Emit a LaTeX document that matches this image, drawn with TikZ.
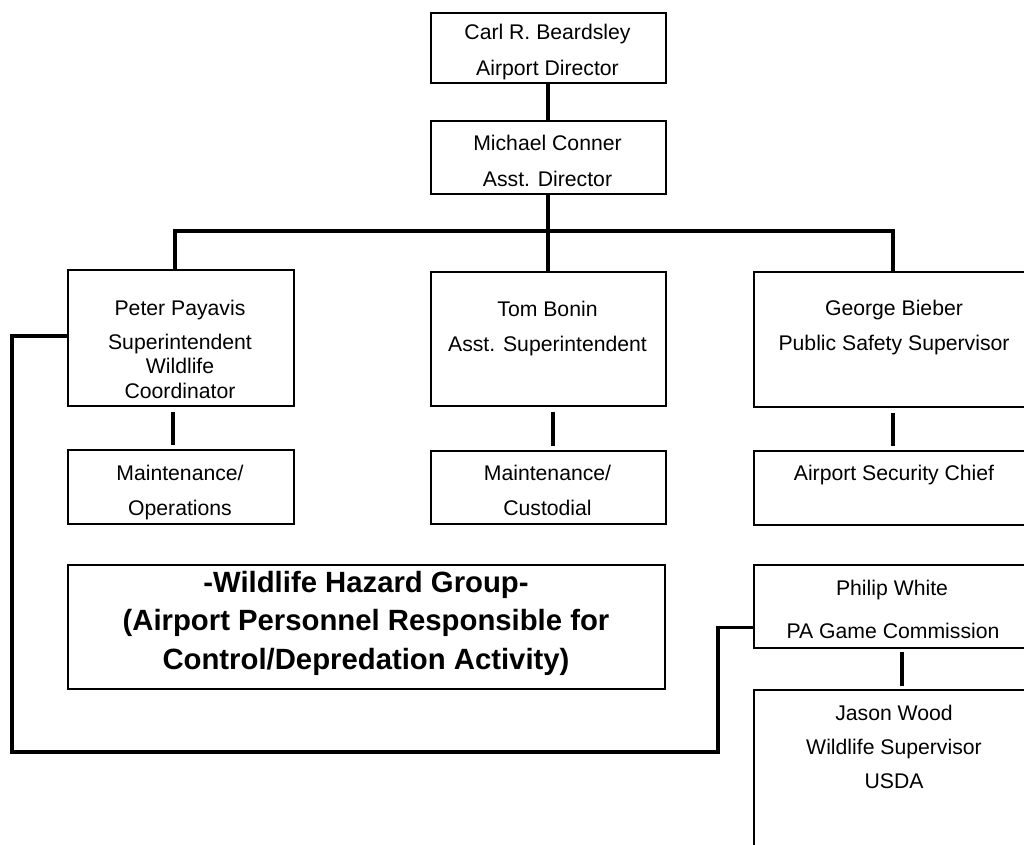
\documentclass[tikz,border=0pt]{standalone}
\usepackage{fontspec}
\setmainfont{Liberation Sans}
\begin{document}
\begin{tikzpicture}[x=1pt,y=-1pt,
  box/.style={draw, line width=1.6pt, inner sep=0pt, anchor=north west},
  conn/.style={draw, line width=3.4pt},
  link/.style={conn, shorten <=5pt, shorten >=4pt},
  txt/.style={anchor=base, inner sep=0pt, font=\fontsize{21.2}{24}\selectfont},
  btxt/.style={anchor=base, inner sep=0pt, font=\fontsize{29.3}{33}\selectfont\bfseries}]
\useasboundingbox (0,0) rectangle (1024,844);
\clip (0,0) rectangle (1024,844);

% boxes
\node[box, minimum width=235pt, minimum height=70pt]  (carl)    at (430,12)  {};
\node[box, minimum width=235pt, minimum height=73pt]  (michael) at (430,120) {};
\node[box, minimum width=226pt, minimum height=136pt] (peter)   at (67,269)  {};
\node[box, minimum width=235pt, minimum height=134pt] (tom)     at (430,271) {};
\node[box, minimum width=282pt, minimum height=135pt] (george)  at (753,271) {};
\node[box, minimum width=226pt, minimum height=74pt]  (mops)    at (67,449)  {};
\node[box, minimum width=235pt, minimum height=73pt]  (mcus)    at (430,450) {};
\node[box, minimum width=282pt, minimum height=74pt]  (sec)     at (753,450) {};
\node[box, minimum width=597pt, minimum height=124pt] (hazard)  at (67,564)  {};
\node[box, minimum width=282pt, minimum height=83pt]  (philip)  at (753,564) {};
\node[box, minimum width=282pt, minimum height=190pt] (jason)   at (753,689) {};

% texts
\node[txt] (t1)  at (547.5,39)  {Carl R. Beardsley};
\node[txt] (t2)  at (547.5,75)  {Airport Director};
\node[txt] (t3)  at (547.5,150) {Michael Conner};
\node[txt] (t4)  at (547.5,186) {Asst. Director};
\node[txt] (t5)  at (180,315)   {Peter Payavis};
\node[txt] (t6)  at (180,349)   {Superintendent};
\node[txt] (t7)  at (180,373)   {Wildlife};
\node[txt] (t8)  at (180,398)   {Coordinator};
\node[txt] (t9)  at (547.5,316) {Tom Bonin};
\node[txt] (t10) at (547.5,351) {Asst. Superintendent};
\node[txt] (t11) at (894,315)   {George Bieber};
\node[txt] (t12) at (894,350)   {Public Safety Supervisor};
\node[txt] (t13) at (180,480)   {Maintenance/};
\node[txt] (t14) at (180,515)   {Operations};
\node[txt] (t15) at (547.5,480) {Maintenance/};
\node[txt] (t16) at (547.5,515) {Custodial};
\node[txt] (t17) at (894,480)   {Airport Security Chief};
\node[btxt] (t18) at (366,592)  {-Wildlife Hazard Group-};
\node[btxt] (t19) at (366,630)  {(Airport Personnel Responsible for};
\node[btxt] (t20) at (366,669)  {Control/Depredation Activity)};
\node[txt] (t21) at (892,595)   {Philip White};
\node[txt] (t22) at (893,638)   {PA Game Commission};
\node[txt] (t23) at (894,720)   {Jason Wood};
\node[txt] (t24) at (894,754)   {Wildlife Supervisor};
\node[txt] (t25) at (894,788)   {USDA};

% connectors
\coordinate (busL) at (175,231);
\coordinate (busR) at (893,231);
\coordinate (loopL) at (12,752);
\coordinate (loopR) at (718,752);

\draw[conn] (carl.south -| 548,0) -- (michael.north -| 548,0);
\draw[conn] (michael.south -| 548,0) -- (tom.north -| 548,0);
\draw[conn] (peter.north -| busL) -- (busL) -- (busR) -- (george.north -| busR);
\draw[link] (peter.south -| 173,0) -- (mops.north -| 173,0);
\draw[link] (tom.south -| 553,0) -- (mcus.north -| 553,0);
\draw[link] (george.south -| 893,0) -- (sec.north -| 893,0);
\draw[link, shorten <=3pt, shorten >=3pt] (philip.south -| 902,0) -- (jason.north -| 902,0);
\draw[conn] ([yshift=2pt]peter.west) -| (loopL) -- (loopR) |- ([yshift=-21pt]philip.west);
\end{tikzpicture}
\end{document}
